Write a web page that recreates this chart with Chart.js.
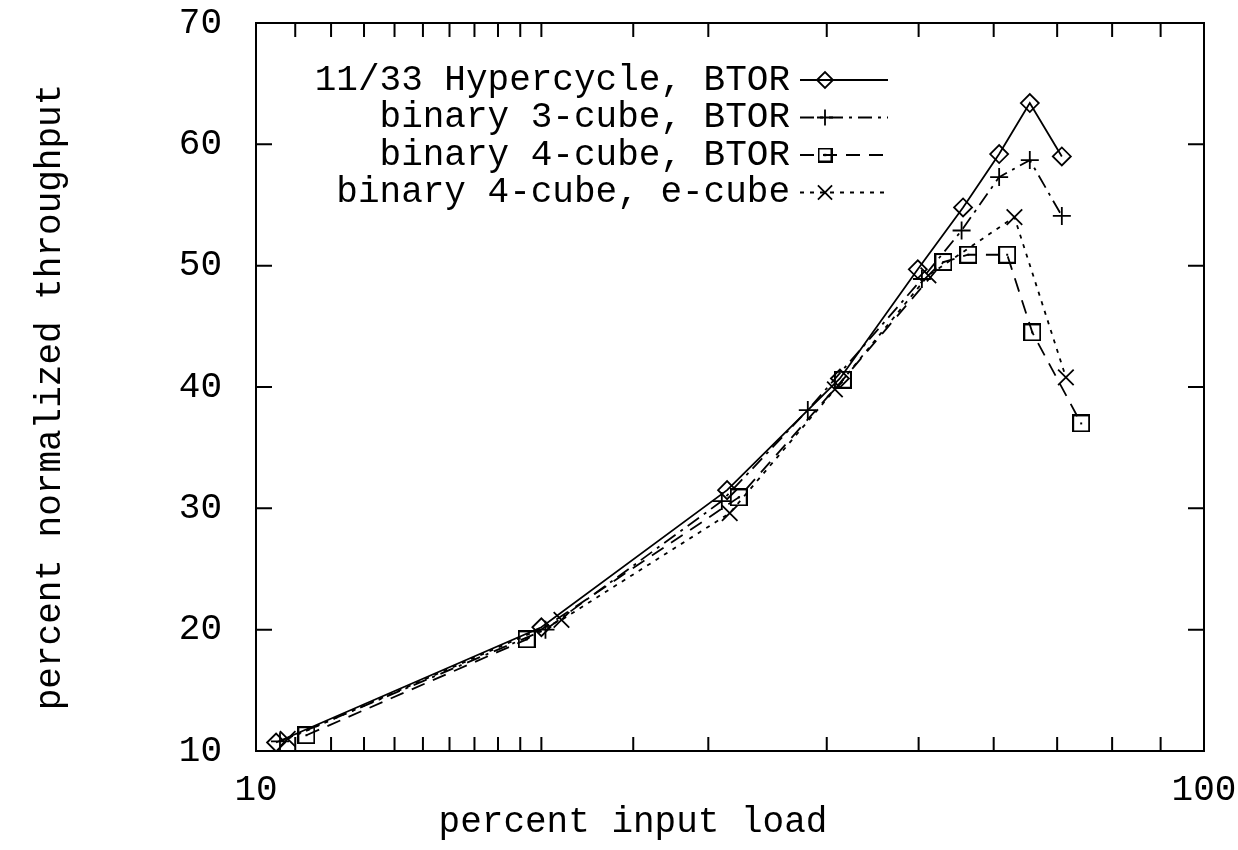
<!DOCTYPE html>
<html>
<head>
<meta charset="utf-8">
<script src="https://cdn.jsdelivr.net/npm/chart.js@4.4.1/dist/chart.umd.min.js"></script>
<style>
  html, body { margin: 0; padding: 0; background: #fff; }
</style>
</head>
<body>
<canvas id="throughputChart" width="1238" height="850"></canvas>
<script>
// ── data ───────────────────────────────────────────────
const seriesLabels = [
  '11/33 Hypercycle, BTOR',
  'binary 3-cube, BTOR',
  'binary 4-cube, BTOR',
  'binary 4-cube, e-cube'
];

const hyperLoad = [10.5, 20.0, 31.4, 41.3, 49.9, 55.7, 60.8, 65.5, 70.8];
const hyperThru = [10.7, 20.2, 31.5, 40.7, 49.7, 54.8, 59.2, 63.4, 59.0];

const cube3Load = [10.6, 20.2, 31.0, 38.2, 50.4, 55.5, 60.8, 65.5, 70.8];
const cube3Thru = [10.8, 20.0, 30.6, 38.1, 48.9, 52.9, 57.3, 58.7, 54.1];

const cube4Load = [11.3, 19.3, 32.3, 41.6, 53.1, 56.4, 62.0, 65.9, 74.2];
const cube4Thru = [11.3, 19.2, 30.9, 40.6, 50.3, 50.9, 50.9, 44.5, 37.0];

const ecubeLoad = [10.8, 21.0, 31.6, 40.8, 51.2, 63.1, 71.5];
const ecubeThru = [11.0, 20.8, 29.6, 39.8, 49.2, 54.0, 40.8];

const xTickLabels = [10, 100];
const xTitle = 'percent input load';
const yTitle = 'percent normalized throughput';

const FONT = "'Liberation Mono', 'DejaVu Sans Mono', monospace";
const pts = (xs, ys) => xs.map((x, i) => ({ x, y: ys[i] }));

// square marker with a dot in the middle
function squareDot(size) {
  const c = document.createElement('canvas');
  c.width = size; c.height = size;
  const g = c.getContext('2d');
  g.strokeStyle = '#000'; g.lineWidth = 2;
  g.strokeRect(1, 1, size - 2, size - 2);
  g.fillStyle = '#000';
  g.fillRect(size / 2 - 1, size / 2 - 1, 2, 2);
  return c;
}
const sqMark = squareDot(18);
const sqLegend = squareDot(15);

const base = { borderColor: '#000', backgroundColor: 'rgba(0,0,0,0)', borderWidth: 1.8,
               pointBorderWidth: 1.8, pointBorderColor: '#000', pointBackgroundColor: 'rgba(0,0,0,0)',
               tension: 0 };

const datasets = [
  { ...base, label: seriesLabels[0], data: pts(hyperLoad, hyperThru), pointStyle: 'rectRot',  pointRadius: 9,  borderDash: [] },
  { ...base, label: seriesLabels[1], data: pts(cube3Load, cube3Thru), pointStyle: 'cross',    pointRadius: 9,  borderDash: [14, 6, 3, 6] },
  { ...base, label: seriesLabels[2], data: pts(cube4Load, cube4Thru), pointStyle: sqMark,     pointRadius: 9,  borderDash: [14, 9] },
  { ...base, label: seriesLabels[3], data: pts(ecubeLoad, ecubeThru), pointStyle: 'crossRot', pointRadius: 11, borderDash: [4, 6] }
];

// ── frame, inward ticks, titles and legend ─────────────
const decor = {
  id: 'decor',
  afterDraw(chart) {
    const { ctx, chartArea: a, scales: { x, y } } = chart;
    ctx.save();
    ctx.strokeStyle = '#000';
    ctx.lineWidth = 2;
    ctx.setLineDash([]);
    ctx.strokeRect(a.left, a.top, a.right - a.left, a.bottom - a.top);

    ctx.beginPath();
    x.ticks.forEach(t => {
      if (t.value <= 10 || t.value >= 100) return;
      const px = x.getPixelForValue(t.value);
      ctx.moveTo(px, a.bottom); ctx.lineTo(px, a.bottom - 14);
      ctx.moveTo(px, a.top);    ctx.lineTo(px, a.top + 14);
    });
    y.ticks.forEach(t => {
      if (t.value <= 10 || t.value >= 70) return;
      const py = y.getPixelForValue(t.value);
      ctx.moveTo(a.left, py);  ctx.lineTo(a.left + 16, py);
      ctx.moveTo(a.right, py); ctx.lineTo(a.right - 16, py);
    });
    ctx.stroke();

    // axis titles
    ctx.fillStyle = '#000';
    ctx.font = '36px ' + FONT;
    ctx.textAlign = 'center';
    ctx.textBaseline = 'middle';
    ctx.fillText(xTitle, 633, 822);
    ctx.save();
    ctx.translate(50, 397);
    ctx.rotate(-Math.PI / 2);
    ctx.fillText(yTitle, 0, 0);
    ctx.restore();

    // legend: right-aligned text, then line sample with marker
    chart.data.datasets.forEach((ds, i) => {
      const ly = 80 + i * 37.5;
      ctx.textAlign = 'right';
      ctx.fillText(ds.label, 790, ly);
      ctx.lineWidth = ds.borderWidth;
      ctx.setLineDash(ds.borderDash);
      ctx.beginPath();
      ctx.moveTo(800, ly); ctx.lineTo(888, ly);
      ctx.stroke();
      ctx.setLineDash([]);
      ctx.lineWidth = ds.pointBorderWidth;
      ctx.fillStyle = 'rgba(0,0,0,0)';
      const style = ds.pointStyle === sqMark ? sqLegend : ds.pointStyle;
      Chart.helpers.drawPoint(ctx, { pointStyle: style, radius: i === 3 ? 10 : 8,
                                     rotation: 0, borderWidth: ds.pointBorderWidth }, 825, ly);
      ctx.fillStyle = '#000';
    });
    ctx.restore();
  }
};

new Chart(document.getElementById('throughputChart'), {
  type: 'line',
  data: { datasets },
  plugins: [decor],
  options: {
    responsive: false,
    animation: false,
    layout: { padding: { top: 23, right: 34, left: 0, bottom: 0 } },
    plugins: { legend: { display: false }, tooltip: { enabled: false } },
    scales: {
      x: {
        type: 'logarithmic', min: 10, max: 100,
        afterFit: s => { s.height = 99; s.paddingLeft = 0; s.paddingRight = 0; },
        grid: { display: false }, border: { display: false },
        ticks: {
          autoSkip: false, maxRotation: 0, padding: 10, color: '#000',
          font: { family: FONT, size: 36 },
          callback: v => xTickLabels.includes(v) ? String(v) : ''
        }
      },
      y: {
        min: 10, max: 70,
        afterFit: s => { s.width = 256; s.paddingTop = 0; s.paddingBottom = 0; },
        grid: { display: false }, border: { display: false },
        ticks: { stepSize: 10, padding: 26, color: '#000', font: { family: FONT, size: 36 } }
      }
    }
  }
});
</script>
</body>
</html>
